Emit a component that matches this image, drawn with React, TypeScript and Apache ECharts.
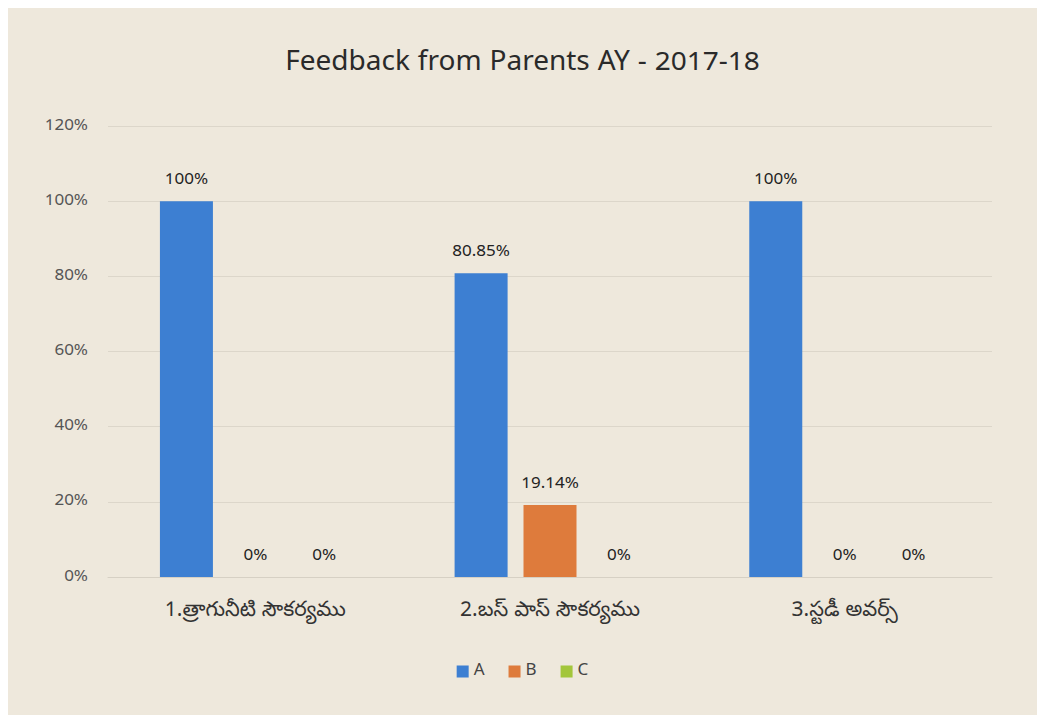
import React, { useEffect, useRef } from "react";
import * as echarts from "echarts";

const categories = ["1.త్రాగునీటి సౌకర్యము", "2.బస్ పాస్ సౌకర్యము", "3.స్టడీ అవర్స్"];
const seriesA = [100, 80.85, 100];
const seriesB = [0, 19.14, 0];
const seriesC = [0, 0, 0];
const seriesNames = ["A", "B", "C"];
const colors = ["#3d7fd2", "#de7b3c", "#a3c63b"];

export default function App() {
  const ref = useRef<HTMLDivElement>(null);
  useEffect(() => {
    const chart = echarts.init(ref.current!, null, { renderer: "svg" });
    const font = "'Noto Sans Telugu', 'Noto Sans', 'Open Sans', sans-serif";
    const fmt = (p: any) => `${p.value}%`;
    const data = [seriesA, seriesB, seriesC];
    chart.setOption({
      animation: false,
      backgroundColor: "#eee8dc",
      title: {
        text: "Feedback from Parents AY - 2017-18",
        left: "center",
        top: 38,
        textStyle: { fontFamily: font, fontSize: 28, fontWeight: "normal", color: "#2a2a2a" },
      },
      legend: {
        bottom: 30,
        left: "center",
        itemWidth: 12,
        itemHeight: 12,
        itemGap: 24,
        icon: "rect",
        textStyle: { fontFamily: font, fontSize: 17, color: "#444" },
        data: seriesNames,
      },
      grid: { left: 100, right: 45, top: 118, bottom: 138 },
      xAxis: {
        type: "category",
        data: categories,
        axisLine: { lineStyle: { color: "#d6d0c4" } },
        axisTick: { show: false },
        axisLabel: { fontFamily: font, fontSize: 21, color: "#333", margin: 24 },
      },
      yAxis: {
        type: "value",
        min: 0,
        max: 120,
        interval: 20,
        axisLabel: { formatter: "{value}%", fontFamily: font, fontSize: 17, color: "#555", margin: 20 },
        splitLine: { lineStyle: { color: "#dcd6ca" } },
        axisLine: { show: false },
        axisTick: { show: false },
      },
      series: seriesNames.map((n, i) => ({
        name: n,
        type: "bar",
        data: data[i],
        barWidth: 53,
        barGap: "30%",
        itemStyle: { color: colors[i] },
        label: {
          show: true,
          position: "top",
          distance: 12,
          formatter: fmt,
          fontFamily: font,
          fontSize: 17,
          color: "#222",
        },
      })),
    });
    return () => chart.dispose();
  }, []);
  return <div ref={ref} style={{ width: 1029, height: 707 }} />;
}
